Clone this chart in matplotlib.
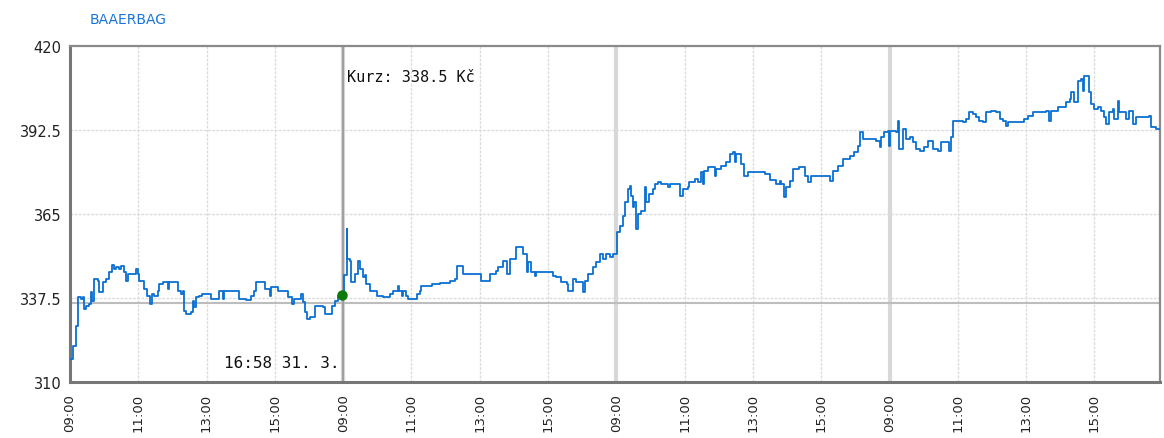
import matplotlib
matplotlib.use("Agg")
import matplotlib.pyplot as plt
import numpy as np

# obchodní hodiny od 09:00 prvního dne (každý den 8 h: 09:00-17:00)
hours = [
    0.00, 0.10, 0.18, 0.23, 0.32, 0.37, 0.42, 0.47, 0.56, 0.61, 0.66, 0.71, 0.81, 0.86, 0.96,
    1.05, 1.15, 1.23, 1.30, 1.35, 1.44, 1.49, 1.59, 1.64, 1.69, 1.83, 1.93, 1.98, 2.03, 2.17,
    2.27, 2.34, 2.40, 2.47, 2.57, 2.61, 2.71, 2.81, 2.86, 2.91, 3.10, 3.15, 3.25, 3.30, 3.35,
    3.39, 3.54, 3.59, 3.64, 3.69, 3.78, 3.88, 4.08, 4.13, 4.32, 4.37, 4.42, 4.47, 4.52, 4.91,
    4.95, 5.15, 5.30, 5.39, 5.46, 5.66, 5.71, 5.85, 5.90, 6.05, 6.10, 6.34, 6.39, 6.49, 6.50,
    6.55, 6.73, 6.78, 6.83, 6.88, 6.93, 7.02, 7.12, 7.17, 7.32, 7.40, 7.46, 7.61, 7.66, 7.76,
    7.85, 7.97,
    # den 2
    8.02, 8.10, 8.12, 8.19, 8.24, 8.34, 8.44, 8.49, 8.58, 8.63, 8.68, 8.78, 8.88, 8.98, 9.17,
    9.27, 9.37, 9.46, 9.56, 9.61, 9.63, 9.71, 9.75, 9.85, 9.90, 10.10, 10.15, 10.24, 10.29,
    10.54, 10.59, 10.83, 11.12, 11.27, 11.32, 11.41, 11.51, 12.00, 12.05, 12.24, 12.29, 12.49,
    12.53, 12.68, 12.78, 12.81, 12.88, 13.02, 13.05, 13.17, 13.27, 13.37, 13.39, 13.41, 13.51,
    13.61, 13.66, 14.00, 14.14, 14.24, 14.39, 14.54, 14.58, 14.68, 14.73, 14.83, 14.93, 15.02,
    15.07, 15.17, 15.31, 15.41, 15.51, 15.61, 15.71, 15.80, 15.90, 15.97,
    # den 3
    16.02, 16.10, 16.19, 16.24, 16.34, 16.39, 16.44, 16.49, 16.53, 16.58, 16.63, 16.73, 16.83,
    16.88, 16.97, 17.07, 17.12, 17.22, 17.32, 17.46, 17.51, 17.56, 17.80, 17.85, 17.95, 18.09,
    18.14, 18.29, 18.39, 18.49, 18.53, 18.58, 18.68, 18.78, 18.88, 18.93, 19.07, 19.22, 19.32,
    19.41, 19.46, 19.51, 19.61, 19.66, 19.75, 19.85, 20.19, 20.34, 20.49, 20.68, 20.78, 20.83,
    20.92, 20.97, 21.07, 21.17, 21.36, 21.51, 21.61, 21.71, 22.24, 22.27, 22.34, 22.48, 22.63,
    22.83, 22.97, 23.07, 23.12, 23.22, 23.61, 23.71, 23.76, 23.85, 23.95, 23.97,
    # den 4
    24.00, 24.19, 24.24, 24.29, 24.39, 24.49, 24.59, 24.69, 24.78, 24.88, 25.00, 25.12, 25.27,
    25.41, 25.51, 25.70, 25.75, 25.80, 25.85, 25.95, 26.14, 26.24, 26.34, 26.44, 26.53, 26.63,
    26.73, 26.83, 26.97, 27.12, 27.22, 27.31, 27.41, 27.46, 27.56, 27.71, 27.95, 28.05, 28.19,
    28.44, 28.58, 28.68, 28.73, 28.92, 29.07, 29.17, 29.27, 29.31, 29.41, 29.51, 29.61, 29.65,
    29.70, 29.80, 29.85, 29.90, 30.00, 30.10, 30.19, 30.29, 30.34, 30.44, 30.53, 30.58, 30.68,
    30.73, 30.83, 30.92, 31.02, 31.12, 31.22, 31.61, 31.66, 31.80, 31.92,
]
prices = [
    317.5, 321.9, 328.4, 337.7, 337.2, 337.7, 333.9, 335.0, 335.5, 339.4, 336.6, 343.7, 343.2, 339.4, 342.6,
    343.7, 345.9, 348.3, 347.0, 347.6, 347.0, 348.1, 345.9, 343.2, 345.4, 345.4, 347.0, 345.4, 343.2, 340.5,
    338.3, 335.5, 338.8, 338.3, 339.9, 342.1, 342.6, 342.6, 340.5, 342.6, 342.6, 339.9, 338.8, 339.9, 333.4,
    332.3, 332.8, 336.6, 334.5, 337.7, 338.3, 338.8, 338.8, 337.2, 337.2, 339.9, 339.9, 337.2, 339.9, 339.9,
    337.2, 337.0, 338.3, 339.9, 342.6, 342.6, 340.5, 338.3, 341.0, 341.0, 339.9, 339.9, 337.7, 337.2, 335.5,
    337.2, 337.2, 338.8, 336.1, 332.8, 330.6, 331.2, 331.2, 335.0, 335.0, 334.5, 332.3, 332.3, 335.0, 336.6,
    338.1, 338.5,
    345.0, 360.1, 350.3, 349.7, 342.6, 345.4, 349.7, 347.0, 344.3, 345.0, 342.1, 339.9, 339.9, 338.3, 337.7,
    337.7, 338.8, 339.9, 339.9, 341.5, 339.9, 338.3, 339.9, 338.3, 337.2, 337.2, 338.8, 339.9, 341.5,
    341.5, 342.1, 342.3, 343.2, 343.7, 348.1, 348.1, 345.4, 345.4, 343.2, 343.2, 345.4, 346.4,
    347.5, 349.7, 349.7, 345.4, 350.3, 350.3, 354.1, 354.1, 351.9, 351.9, 345.9, 349.2, 345.9,
    344.8, 345.9, 345.9, 344.8, 344.3, 342.6, 342.1, 339.9, 339.9, 343.7, 342.6, 342.6, 339.4,
    343.2, 345.4, 347.5, 349.2, 351.9, 350.3, 351.9, 350.9, 351.9, 351.9,
    359.0, 361.2, 364.5, 368.8, 373.2, 374.3, 371.0, 367.2, 369.0, 360.1, 365.0, 366.1, 373.7,
    368.8, 371.6, 373.2, 374.8, 375.4, 374.8, 374.8, 373.7, 374.8, 374.8, 371.0, 373.2, 373.7,
    375.4, 376.5, 375.4, 378.6, 374.8, 379.2, 380.3, 380.3, 377.5, 379.7, 380.8, 381.9, 384.6,
    385.2, 381.9, 384.6, 384.6, 381.4, 377.5, 378.6, 378.6, 378.1, 376.0, 374.8, 375.9, 374.8,
    370.5, 373.7, 375.9, 379.7, 380.3, 377.5, 375.4, 377.5, 377.5, 375.9, 379.2, 380.8, 383.0,
    384.1, 385.2, 387.4, 391.8, 389.6, 389.0, 386.8, 390.1, 391.8, 392.3, 387.4,
    392.3, 391.8, 395.5, 386.3, 392.8, 389.6, 390.1, 388.5, 386.3, 385.7, 386.8, 389.0, 386.3,
    385.7, 388.5, 388.5, 385.7, 390.1, 395.5, 395.5, 395.0, 396.1, 398.3, 397.7, 396.7, 395.5,
    395.0, 398.3, 398.8, 398.3, 396.1, 395.5, 393.9, 395.0, 395.0, 395.0, 396.1, 397.2, 398.3,
    398.3, 398.8, 395.5, 398.8, 399.9, 399.9, 401.6, 402.7, 404.9, 401.6, 408.6, 409.2, 405.4,
    410.3, 410.3, 404.9, 401.0, 399.4, 399.9, 398.8, 396.7, 394.5, 398.3, 399.4, 396.1, 402.1,
    398.3, 398.3, 396.1, 398.8, 394.5, 396.7, 397.2, 393.4, 392.8, 392.8,
]

tick_pos = [0, 2, 4, 6, 8, 10, 12, 14, 16, 18, 20, 22, 24, 26, 28, 30]
tick_labels = ["09:00", "11:00", "13:00", "15:00"] * 4
day_starts = [8, 16, 24]
y_ticks = [310, 337.5, 365, 392.5, 420]
y_labels = ["310", "337.5", "365", "392.5", "420"]

cursor_x, cursor_price = 7.97, 338.5
prev_close = 335.7

fig = plt.figure(figsize=(11.64, 4.39), dpi=100)
ax = fig.add_axes([0.0601, 0.1276, 0.9365, 0.7654])

ax.set_xlim(0, 31.92)
ax.set_ylim(310, 420)

# mřížka
for x in tick_pos:
    ax.axvline(x, color="#dcdcdc", lw=1, ls=(0, (2, 1)), zorder=0)
for d in day_starts:
    ax.axvline(d, color="#d8d8d8", lw=3, zorder=0)
for y in y_ticks[1:-1]:
    ax.axhline(y, color="#dcdcdc", lw=1, ls=(0, (2, 1)), zorder=0)
ax.axhline(prev_close, color="#bdbdbd", lw=1.5, zorder=1)

ax.plot(hours, prices, color="#0a6fd2", lw=1.3, drawstyle="steps-post", zorder=3)

# kurzor
ax.axvline(8.0, color="#a0a0a0", lw=1.5, zorder=2)
ax.plot([cursor_x], [cursor_price], "o", color="#0b7a0b", ms=6.5, zorder=4)
ax.text(8.12, 410, "Kurz: 338.5 Kč", fontsize=11, family="DejaVu Sans Mono",
        color="#111", va="center", ha="left")
ax.text(7.9, 316.5, "16:58 31. 3.", fontsize=11.5, family="DejaVu Sans Mono",
        color="#111", va="center", ha="right")

ax.set_xticks(tick_pos)
ax.set_xticklabels(tick_labels, rotation=90, fontsize=9.5, color="#222")
ax.set_yticks(y_ticks)
ax.set_yticklabels(y_labels, fontsize=10.5, color="#222")
ax.tick_params(length=0, pad=8)
ax.tick_params(axis="y", pad=6)

for side in ["left", "bottom"]:
    ax.spines[side].set_color("#777777")
    ax.spines[side].set_linewidth(2.2)
for side in ["top", "right"]:
    ax.spines[side].set_color("#8a8a8a")
    ax.spines[side].set_linewidth(1.6)

fig.text(90 / 1164, 1 - 20 / 439, "BAAERBAG", color="#1a74d8", fontsize=10, va="center", ha="left")

fig.savefig("out.png", dpi=100, facecolor="white")
